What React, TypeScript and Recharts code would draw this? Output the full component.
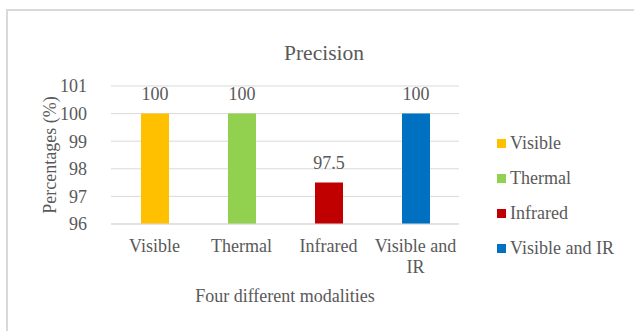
import React from 'react';
import { BarChart, Bar, XAxis, YAxis, CartesianGrid, Cell, LabelList } from 'recharts';

const categories = ['Visible', 'Thermal', 'Infrared', 'Visible and IR'];
const precisionValues = [100, 100, 97.5, 100];
const barColors = ['#FFC000', '#92D050', '#C00000', '#0070C0'];
const yTicks = [96, 97, 98, 99, 100, 101];
const chartTitle = 'Precision';
const yAxisTitle = 'Percentages (%)';
const xAxisTitle = 'Four different modalities';

const data = categories.map((name, i) => ({ name, value: precisionValues[i] }));

const FONT = '"Liberation Serif", "Times New Roman", serif';
const TEXT = '#595959';
const GRID = '#D9D9D9';

function wrapLabel(text: string, maxChars: number): string[] {
  const words = text.split(' ');
  const lines: string[] = [];
  let cur = '';
  for (const w of words) {
    const next = cur ? cur + ' ' + w : w;
    if (next.length > maxChars && cur) {
      lines.push(cur);
      cur = w;
    } else {
      cur = next;
    }
  }
  if (cur) lines.push(cur);
  return lines;
}

const XTick = (props: any) => {
  const { x, y, payload } = props;
  const lines = wrapLabel(String(payload.value), 12);
  return (
    <text x={x} y={y} textAnchor="middle" fill={TEXT} fontSize={18} fontFamily={FONT}>
      {lines.map((l, i) => (
        <tspan key={i} x={x} dy={i === 0 ? 28 : 21}>
          {l}
        </tspan>
      ))}
    </text>
  );
};

const YLabel = (props: any) => {
  const vb = props.viewBox;
  const cx = vb.x - 31;
  const cy = vb.y + vb.height / 2;
  return (
    <text
      x={cx}
      y={cy}
      transform={`rotate(-90, ${cx}, ${cy})`}
      textAnchor="middle"
      dominantBaseline="central"
      fill={TEXT}
      fontSize={18}
      fontFamily={FONT}
    >
      {yAxisTitle}
    </text>
  );
};

export default function App() {
  return (
    <div style={{ position: 'absolute', left: 0, top: 0, width: 634, height: 331, overflow: 'hidden', background: '#fff', fontFamily: FONT }}>
      <div
        style={{
          position: 'absolute',
          left: 6,
          top: 9,
          width: 800,
          height: 500,
          border: `2px solid ${GRID}`,
          boxSizing: 'border-box',
        }}
      />
      <div
        style={{
          position: 'absolute',
          left: 6,
          width: 636,
          top: 41,
          textAlign: 'center',
          fontSize: 21.5,
          lineHeight: '24px',
          color: TEXT,
          fontFamily: FONT,
        }}
      >
        {chartTitle}
      </div>
      <div style={{ position: 'absolute', left: 0, top: 0 }}>
        <BarChart
          width={634}
          height={331}
          data={data}
          margin={{ top: 86, right: 175, bottom: 27, left: 81 }}
        >
          <CartesianGrid vertical={false} stroke={GRID} strokeWidth={1} />
          <XAxis
            dataKey="name"
            height={80}
            axisLine={{ stroke: GRID }}
            tickLine={false}
            tickSize={0}
            tickMargin={0}
            interval={0}
            tick={<XTick />}
            label={{ value: xAxisTitle, position: 'insideBottom', offset: 2, fill: TEXT, fontSize: 18, fontFamily: FONT }}
          />
          <YAxis
            width={30}
            domain={[96, 101]}
            ticks={yTicks}
            axisLine={false}
            tickLine={false}
            tickSize={0}
            tickMargin={24}
            tick={{ fill: TEXT, fontSize: 18, fontFamily: FONT }}
            label={<YLabel />}
          />
          <Bar dataKey="value" barSize={28} isAnimationActive={false}>
            {data.map((d, i) => (
              <Cell key={d.name} fill={barColors[i]} />
            ))}
            <LabelList dataKey="value" position="top" offset={14} fill={TEXT} fontSize={18} fontFamily={FONT} />
          </Bar>
        </BarChart>
      </div>
      <div style={{ position: 'absolute', left: 497, top: 126 }}>
        {categories.map((c, i) => (
          <div key={c} style={{ display: 'flex', alignItems: 'center', height: 35, color: TEXT, fontSize: 18, fontFamily: FONT }}>
            <span style={{ display: 'inline-block', width: 9, height: 9, background: barColors[i], marginRight: 4 }} />
            <span>{c}</span>
          </div>
        ))}
      </div>
    </div>
  );
}
